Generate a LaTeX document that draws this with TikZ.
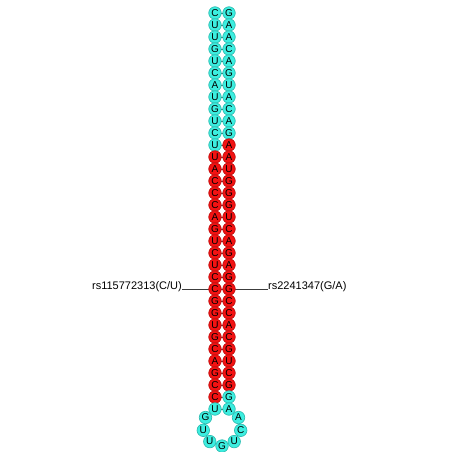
\documentclass[tikz,border=0pt]{standalone}
\usepackage{fontspec}
\setmainfont{Liberation Sans}
\usetikzlibrary{backgrounds}
\definecolor{stemcyan}{RGB}{60,238,224}
\definecolor{snpred}{RGB}{242,18,18}
\definecolor{bbgray}{RGB}{60,60,60}

\begin{document}
\begin{tikzpicture}[x=1pt, y=-1pt,
  nt/.style={circle, fill=#1, draw=#1!80!black, line width=0.7pt,
             minimum size=12.5pt, inner sep=0pt,
             font=\fontsize{10}{10}\selectfont},
  bb/.style={line width=0.6pt, color=bbgray},
  snp/.style={inner sep=0pt, font=\fontsize{11}{11}\selectfont}
]
\useasboundingbox (0,0) rectangle (452,452);

% ── Stem: 34 base pairs (left 5' strand, right 3' strand) ────────────────
\foreach \i/\a/\b/\ka/\kb in {
   1/C/G/stemcyan/stemcyan,  2/U/A/stemcyan/stemcyan,  3/U/A/stemcyan/stemcyan,
   4/G/C/stemcyan/stemcyan,  5/U/A/stemcyan/stemcyan,  6/C/G/stemcyan/stemcyan,
   7/A/U/stemcyan/stemcyan,  8/U/A/stemcyan/stemcyan,  9/G/C/stemcyan/stemcyan,
  10/U/A/stemcyan/stemcyan, 11/C/G/stemcyan/stemcyan, 12/U/A/stemcyan/snpred,
  13/U/A/snpred/snpred,     14/A/U/snpred/snpred,     15/C/G/snpred/snpred,
  16/C/G/snpred/snpred,     17/C/G/snpred/snpred,     18/A/U/snpred/snpred,
  19/G/C/snpred/snpred,     20/U/A/snpred/snpred,     21/C/G/snpred/snpred,
  22/U/A/snpred/snpred,     23/C/G/snpred/snpred,     24/C/G/snpred/snpred,
  25/G/C/snpred/snpred,     26/G/C/snpred/snpred,     27/U/A/snpred/snpred,
  28/G/C/snpred/snpred,     29/C/G/snpred/snpred,     30/A/U/snpred/snpred,
  31/G/C/snpred/snpred,     32/C/G/snpred/snpred,     33/C/G/snpred/stemcyan,
  34/U/A/stemcyan/stemcyan}{
  \node[nt=\ka] (l\i) at (215, {1+12*\i}) {\a};
  \node[nt=\kb] (r\i) at (229, {1+12*\i}) {\b};
}

% ── Hairpin loop (7 unpaired) ────────────────────────────────────────────
\node[nt=stemcyan] (h1) at (205.5, 417.5) {G};
\node[nt=stemcyan] (h2) at (203.3, 430.3) {U};
\node[nt=stemcyan] (h3) at (209.8, 441.6) {U};
\node[nt=stemcyan] (h4) at (222.0, 446.0) {G};
\node[nt=stemcyan] (h5) at (234.2, 441.6) {U};
\node[nt=stemcyan] (h6) at (240.7, 430.3) {C};
\node[nt=stemcyan] (h7) at (238.5, 417.5) {A};

% ── SNP labels ───────────────────────────────────────────────────────────
\node[snp, anchor=base east] (snpl) at (182, 289) {rs115772313(C/U)};
\node[snp, anchor=base west] (snpr) at (268, 289) {rs2241347(G/A)};

% ── Backbone, pairs and SNP leaders (behind the bases) ──────────────────
\begin{pgfonlayer}{background}
  \foreach \i [count=\j from 2] in {1,...,33} {
    \draw[bb] (l\i.center) -- (l\j.center);
    \draw[bb] (r\i.center) -- (r\j.center);
  }
  \foreach \i in {1,...,34}
    \draw[bb] (l\i.center) -- (r\i.center);
  \draw[bb] (l34.center) -- (h1.center) -- (h2.center) -- (h3.center)
            -- (h4.center) -- (h5.center) -- (h6.center) -- (h7.center)
            -- (r34.center);
  \draw[bb] (snpl.base east) -- (l24.center);
  \draw[bb] (r24.center) -- (snpr.base west);
\end{pgfonlayer}

\end{tikzpicture}
\end{document}
